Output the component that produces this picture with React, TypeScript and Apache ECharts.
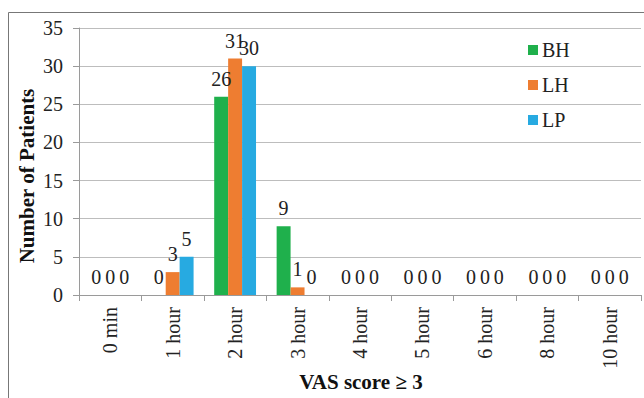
import React, { useEffect, useRef } from "react";
import * as echarts from "echarts";

const categories = ["0 min", "1 hour", "2 hour", "3 hour", "4 hour", "5 hour", "6 hour", "8 hour", "10 hour"];
const bhValues = [0, 0, 26, 9, 0, 0, 0, 0, 0];
const lhValues = [0, 3, 31, 1, 0, 0, 0, 0, 0];
const lpValues = [0, 5, 30, 0, 0, 0, 0, 0, 0];
const seriesNames = ["BH", "LH", "LP"];
const colors = ["#1fb04c", "#ee7d31", "#27aae1"];

const FONT = "'Liberation Serif', 'Times New Roman', serif";

export default function App() {
  const ref = useRef<HTMLDivElement>(null);
  useEffect(() => {
    if (!ref.current) return;
    const chart = echarts.init(ref.current, null, { renderer: "svg" });
    const data = [bhValues, lhValues, lpValues];
    chart.setOption({
      animation: false,
      textStyle: { fontFamily: FONT },
      grid: { left: 79, right: 3, top: 28, bottom: 103, containLabel: false },
      legend: {
        orient: "vertical",
        left: 523,
        top: 35,
        itemWidth: 10,
        itemHeight: 10,
        itemGap: 15,
        icon: "rect",
        textStyle: { fontFamily: FONT, fontSize: 20, color: "#222", padding: [0, 0, 0, -1] },
        data: seriesNames,
      },
      xAxis: {
        type: "category",
        data: categories,
        axisLine: { lineStyle: { color: "#9a9a9a" } },
        axisTick: { show: true, length: 6, lineStyle: { color: "#9a9a9a" } },
        axisLabel: { rotate: 90, margin: 12, fontFamily: FONT, fontSize: 20, color: "#222" },
      },
      yAxis: {
        type: "value",
        min: 0,
        max: 35,
        interval: 5,
        axisLine: { show: true, lineStyle: { color: "#9a9a9a" } },
        axisTick: { show: true, length: 6, lineStyle: { color: "#9a9a9a" } },
        splitLine: { lineStyle: { color: "#bdbdbd" } },
        axisLabel: { margin: 16, fontFamily: FONT, fontSize: 20, color: "#222" },
      },
      graphic: [
        {
          type: "rect",
          shape: { x: 8.5, y: 12.5, width: 800, height: 600 },
          style: { fill: "none", stroke: "#777", lineWidth: 1 },
          silent: true,
        },
        {
          type: "text",
          x: 27,
          y: 176,
          rotation: Math.PI / 2,
          style: {
            text: "Number of Patients",
            fontFamily: FONT,
            fontSize: 21,
            fontWeight: "bold",
            fill: "#111",
            align: "center",
            verticalAlign: "middle",
          },
        },
        {
          type: "text",
          x: 361,
          y: 382,
          style: {
            text: "VAS score ≥ 3",
            fontFamily: FONT,
            fontSize: 21,
            fontWeight: "bold",
            fill: "#111",
            align: "center",
            verticalAlign: "middle",
          },
        },
      ],
      series: seriesNames.map((name, i) => ({
        name,
        type: "bar",
        data: data[i],
        barGap: "0%",
        barCategoryGap: "33%",
        itemStyle: { color: colors[i] },
        label: {
          show: true,
          position: "top",
          distance: 8,
          fontFamily: FONT,
          fontSize: 20,
          color: "#222",
        },
      })),
    });
    return () => chart.dispose();
  }, []);
  return <div ref={ref} style={{ width: 644, height: 398, position: "absolute", left: 0, top: 0 }} />;
}
